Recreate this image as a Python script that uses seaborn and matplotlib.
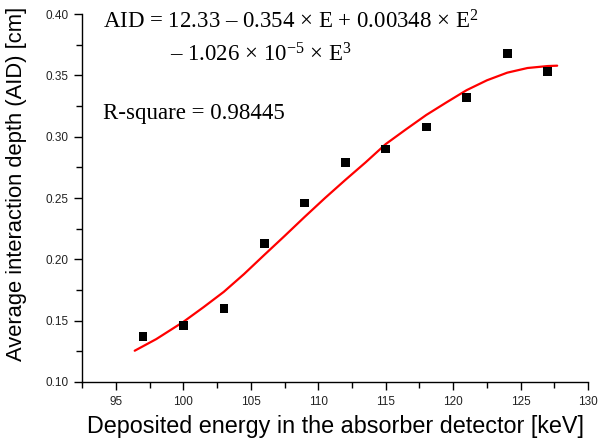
import matplotlib
matplotlib.use("Agg")
import matplotlib.pyplot as plt
from matplotlib.ticker import MultipleLocator, FormatStrFormatter
import seaborn as sns
import pandas as pd

# measured data
energy = [97, 100, 103, 106, 109, 112, 115, 118, 121, 124, 127]
aid = [0.137, 0.146, 0.160, 0.213, 0.246, 0.279, 0.290, 0.308, 0.332, 0.368, 0.353]

# fitted curve
fit_energy = [96.4, 98, 100, 101.5, 103, 104.5, 106, 107.5, 109, 110.5, 112, 113.5,
              115, 116.5, 118, 119.5, 121, 122.5, 124, 125.5, 127, 127.7]
fit_aid = [0.1255, 0.135, 0.149, 0.161, 0.1735, 0.188, 0.2036, 0.219, 0.2347, 0.250,
           0.2647, 0.279, 0.294, 0.306, 0.3177, 0.328, 0.338, 0.346, 0.3522, 0.356,
           0.3576, 0.3579]

sns.set_theme(style="ticks")
plt.rcParams['font.family'] = ['Liberation Sans', 'DejaVu Sans']
plt.rcParams['mathtext.fontset'] = 'custom'
plt.rcParams['mathtext.rm'] = 'Liberation Serif'
plt.rcParams['mathtext.it'] = 'Liberation Serif:italic'

fig = plt.figure(figsize=(5.99, 4.46), dpi=100)
ax = fig.add_axes([0.137, 0.1435, 0.845, 0.825])

df_fit = pd.DataFrame({"E": fit_energy, "AID": fit_aid})
df = pd.DataFrame({"E": energy, "AID": aid})
sns.lineplot(data=df_fit, x="E", y="AID", color="#ff0000", linewidth=1.6, ax=ax, sort=True)
sns.scatterplot(data=df, x="E", y="AID", marker="s", color="black", s=38,
                edgecolor="none", ax=ax, zorder=3)

ax.set_xlim(92.5, 130)
ax.set_ylim(0.10, 0.40)
ax.xaxis.set_major_locator(MultipleLocator(5))
ax.xaxis.set_minor_locator(MultipleLocator(2.5))
ax.yaxis.set_major_locator(MultipleLocator(0.05))
ax.yaxis.set_minor_locator(MultipleLocator(0.025))
ax.yaxis.set_major_formatter(FormatStrFormatter('%.2f'))
ax.tick_params(which='major', direction='out', length=6, width=1, labelsize=8.5,
               color='black', labelcolor='#222222')
ax.tick_params(which='minor', direction='out', length=4, width=1, color='black')
ax.tick_params(axis='x', pad=4)
for s in ['top', 'right']:
    ax.spines[s].set_visible(False)
for s in ['left', 'bottom']:
    ax.spines[s].set_color('black')
    ax.spines[s].set_linewidth(1)

ax.set_xlabel("Deposited energy in the absorber detector [keV]", fontsize=16.8,
              color='black', labelpad=5)
ax.set_ylabel("Average interaction depth (AID) [cm]", fontsize=15.8,
              color='black', va='center')
ax.yaxis.set_label_coords((16.5 - 82) / 506, (382 - 183.5) / 368)

serif = dict(family='Liberation Serif', fontsize=16.5, color='black',
             transform=fig.transFigure)
fig.text(103 / 599, 1 - 22 / 446,
         "AID = 12.33 \u2013 0.354 \u00d7 E + 0.00348 \u00d7 E$^{2}$",
         va='center', ha='left', **serif)
fig.text(170 / 599, 1 - 55 / 446,
         "\u2013 1.026 \u00d7 10$^{-5}$ \u00d7 E$^{3}$",
         va='center', ha='left', **serif)
fig.text(103 / 599, 1 - 113 / 446, "R-square = 0.98445",
         va='center', ha='left', **serif)

fig.savefig("out.png", dpi=100)
